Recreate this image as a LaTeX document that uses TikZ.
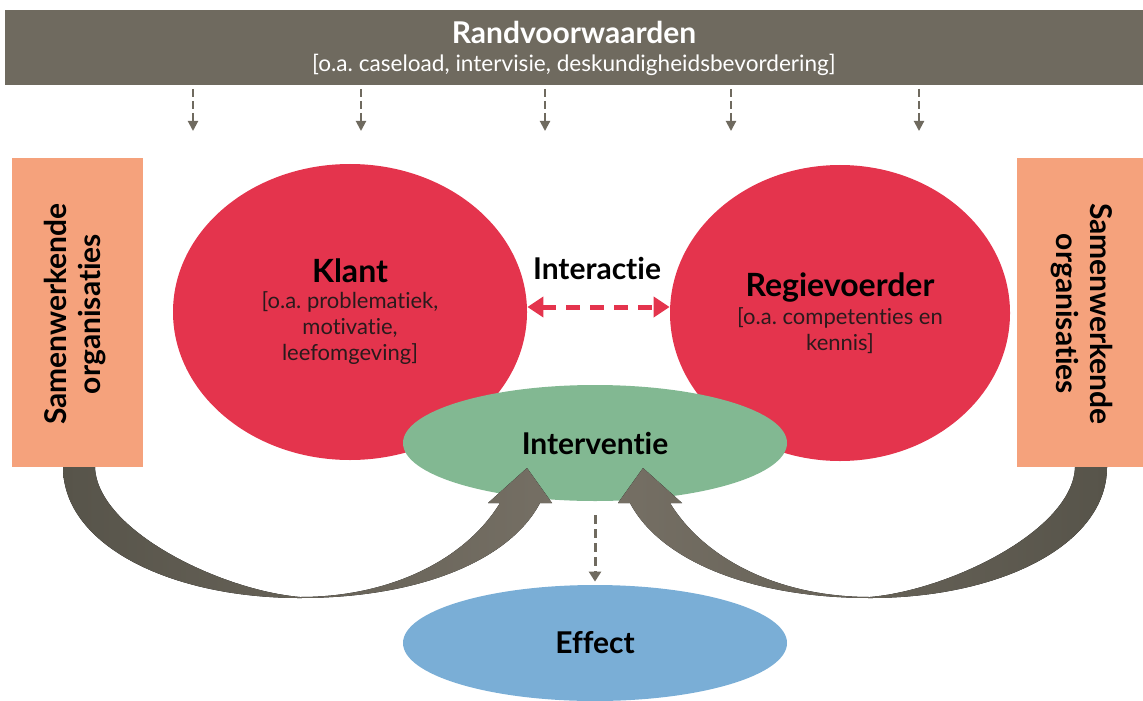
\documentclass[tikz,border=0pt]{standalone}
\usepackage{fontspec}
\setmainfont{Lato}[Ligatures={NoCommon}]
\usetikzlibrary{arrows.meta,shapes.geometric}
\frenchspacing
\definecolor{barc}{HTML}{6F6A5F}
\definecolor{orangec}{HTML}{F5A27C}
\definecolor{redc}{HTML}{E4344D}
\definecolor{greenc}{HTML}{82B892}
\definecolor{bluec}{HTML}{7AAED6}
\definecolor{arrdark}{HTML}{57544A}
\definecolor{arrlight}{HTML}{756F64}
\definecolor{subtxt}{HTML}{2A1A1C}
\begin{document}
\begin{tikzpicture}[x=0.5pt,y=-0.5pt,
  barbox/.style={fill=barc, draw=none, inner sep=0pt, text=white, align=center},
  orgbox/.style={fill=orangec, draw=none, inner sep=0pt, align=center,
    font=\fontsize{15}{17}\selectfont\bfseries},
  circ/.style={ellipse, fill=redc, draw=none, inner sep=0pt, align=center,
    font=\fontsize{11}{13}\selectfont},
  oval/.style={ellipse, draw=none, inner sep=0pt, minimum width=192pt, minimum height=58pt,
    font=\fontsize{15}{18}\selectfont\bfseries},
  smalldash/.style={draw=barc, line width=1pt, dash pattern=on 4pt off 2pt,
    -{Triangle[length=5pt,width=5pt]}},
  middash/.style={draw=barc, line width=1.5pt, dash pattern=on 4.5pt off 2.5pt,
    -{Triangle[length=5pt,width=6pt]}},
  reddash/.style={draw=redc, line width=2.5pt, dash pattern=on 7pt off 5pt,
    {Triangle[length=8pt,width=10pt]}-{Triangle[length=8pt,width=10pt]}}
]
\useasboundingbox (0,0) rectangle (1143,700);

% top bar
\node[barbox, minimum width=569pt, minimum height=37.5pt] (bar) at (574,48)
  {{\fontsize{15}{18}\selectfont\bfseries Randvoorwaarden}\\[2pt]
   {\fontsize{11.3}{13}\selectfont [o.a. caseload, intervisie, deskundigheidsbevordering]}};

% dashed arrows from bar
\coordinate (d1) at (193,131);
\coordinate (d2) at (361,131);
\coordinate (d3) at (545,131);
\coordinate (d4) at (731,131);
\coordinate (d5) at (919,131);
\foreach \d in {d1,d2,d3,d4,d5}
  \draw[smalldash, shorten <=1.5pt] (bar.south -| \d) -- (\d);

% side boxes
\node[orgbox, minimum width=65.5pt, minimum height=154.5pt] (lorg) at (77.5,312.5) {};
\node[rotate=90, align=center, font=\fontsize{15}{17}\selectfont\bfseries] (ltxt) at (75,314)
  {Samenwerkende\\organisaties};
\node[orgbox, minimum width=63pt, minimum height=154.5pt] (rorg) at (1080,312.5) {};
\node[rotate=-90, align=center, font=\fontsize{15}{17}\selectfont\bfseries] (rtxt) at (1082,314)
  {Samenwerkende\\organisaties};

% red circles
\node[circ, minimum width=177pt, minimum height=148pt] (klant) at (350,312)
  {{\fontsize{16}{19}\selectfont\bfseries Klant}\\
   \textcolor{subtxt}{[o.a. problematiek,}\\ \textcolor{subtxt}{motivatie,}\\ \textcolor{subtxt}{leefomgeving]}};
\node[circ, minimum width=170pt, minimum height=148pt] (regie) at (840,313)
  {{\fontsize{16}{19}\selectfont\bfseries Regievoerder}\\[1pt]
   \textcolor{subtxt}{[o.a. competenties en}\\ \textcolor{subtxt}{kennis]}};

% interactie
\node[font=\fontsize{15}{18}\selectfont\bfseries] (inter) at (597,268) {Interactie};
\draw[reddash] (klant.east |- 0,307) -- (regie.west |- 0,307);

% interventie
\node[oval, fill=greenc] (interv) at (595,443) {Interventie};

% big curved arrows
\fill[left color=arrdark, right color=arrlight]
  (95,467) .. controls (97,530) and (220,590) .. (300,597)
  .. controls (390,597) and (465,560) .. (500,503)
  -- (488,503) -- (527,468) -- (552,503) -- (540,503)
  .. controls (510,560) and (420,598) .. (300,598)
  .. controls (170,598) and (63,545) .. (63,467) -- cycle;
\fill[left color=arrlight, right color=arrdark]
  (1075,467) .. controls (1073,530) and (950,590) .. (870,597)
  .. controls (780,597) and (705,560) .. (670,503)
  -- (682,503) -- (643,468) -- (618,503) -- (630,503)
  .. controls (660,560) and (750,598) .. (870,598)
  .. controls (1000,598) and (1107,545) .. (1107,467) -- cycle;

% effect
\node[oval, fill=bluec] (effect) at (595,643) {Effect};
\draw[middash, shorten <=7pt, shorten >=1.5pt] (interv.south) -- (effect.north);

\end{tikzpicture}
\end{document}
